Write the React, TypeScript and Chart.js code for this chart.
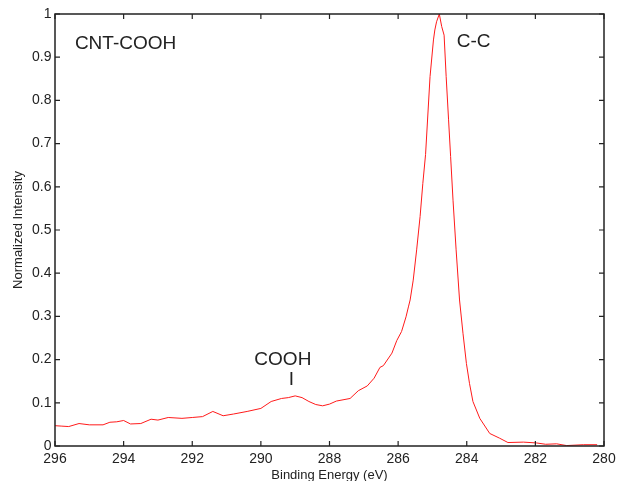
import React, { useEffect, useRef } from "react";
import { Chart, registerables } from "chart.js";

Chart.register(...registerables);

// Binding energy (eV), high to low
const energy = [
  296.0, 295.8, 295.6, 295.3, 295.0, 294.6, 294.4, 294.2, 294.0, 293.8,
  293.5, 293.2, 293.0, 292.7, 292.3, 292.0, 291.7, 291.4, 291.1, 290.8,
  290.4, 290.0, 289.7, 289.4, 289.2, 289.0, 288.8, 288.6, 288.4, 288.2,
  288.0, 287.8, 287.4, 287.16, 286.9, 286.7, 286.53, 286.43, 286.18, 286.04,
  285.9, 285.77, 285.7, 285.65, 285.56, 285.46, 285.36, 285.28, 285.2, 285.07,
  284.97, 284.93, 284.88, 284.8, 284.73, 284.66, 284.6, 284.53, 284.47, 284.4,
  284.31, 284.21, 284.11, 284.01, 283.92, 283.82, 283.62, 283.33, 283.04, 282.8,
  282.35, 281.96, 281.7, 281.38, 281.09, 280.6, 280.2,
];

// Normalized intensity
const intensity = [
  0.047, 0.046, 0.045, 0.052, 0.049, 0.049, 0.055, 0.056, 0.059, 0.051,
  0.052, 0.062, 0.060, 0.066, 0.064, 0.066, 0.068, 0.080, 0.070, 0.074,
  0.080, 0.087, 0.103, 0.110, 0.112, 0.116, 0.112, 0.103, 0.096, 0.093,
  0.097, 0.104, 0.110, 0.128, 0.139, 0.157, 0.182, 0.186, 0.215, 0.244,
  0.265, 0.299, 0.322, 0.338, 0.384, 0.454, 0.531, 0.608, 0.675, 0.855,
  0.940, 0.963, 0.982, 1.0, 0.971, 0.951, 0.855, 0.755, 0.670, 0.569,
  0.454, 0.338, 0.261, 0.191, 0.145, 0.103, 0.064, 0.029, 0.018, 0.008,
  0.009, 0.007, 0.004, 0.005, 0.001, 0.003, 0.003,
];

const xMin = 280;
const xMax = 296;
const xStep = 2;
const yMin = 0;
const yMax = 1;
const yStep = 0.1;

const xTitle = "Binding Energy (eV)";
const yTitle = "Normalized Intensity";

// Text labels placed at data coordinates
const labelTexts = ["CNT-COOH", "C-C", "COOH", "I"];
const labelX = [295.42, 284.29, 290.19, 289.11];
const labelY = [0.932, 0.936, 0.2, 0.153];
const labelAlign = ["left", "left", "left", "center"];

const FONT = "'Liberation Sans', Arial, Helvetica, sans-serif";
const INK = "#222222";

const framePlugin = {
  id: "frameAndLabels",
  afterDraw(chart: any) {
    const { ctx, chartArea: a } = chart;
    const xs = chart.scales.x;
    const ys = chart.scales.y;
    ctx.save();
    ctx.strokeStyle = INK;
    ctx.lineWidth = 1.5;
    ctx.strokeRect(a.left, a.top, a.right - a.left, a.bottom - a.top);
    ctx.lineWidth = 1.2;
    ctx.beginPath();
    const tl = 5;
    xs.ticks.forEach((t: any) => {
      const px = xs.getPixelForValue(t.value);
      ctx.moveTo(px, a.bottom);
      ctx.lineTo(px, a.bottom - tl);
      ctx.moveTo(px, a.top);
      ctx.lineTo(px, a.top + tl);
    });
    ys.ticks.forEach((t: any) => {
      const py = ys.getPixelForValue(t.value);
      ctx.moveTo(a.left, py);
      ctx.lineTo(a.left + tl, py);
      ctx.moveTo(a.right, py);
      ctx.lineTo(a.right - tl, py);
    });
    ctx.stroke();

    ctx.fillStyle = INK;
    ctx.font = `19px ${FONT}`;
    ctx.textBaseline = "middle";
    labelTexts.forEach((txt, i) => {
      ctx.textAlign = labelAlign[i] as CanvasTextAlign;
      ctx.fillText(txt, xs.getPixelForValue(labelX[i]), ys.getPixelForValue(labelY[i]));
    });
    ctx.restore();
  },
};

export default function App() {
  const ref = useRef<HTMLCanvasElement | null>(null);

  useEffect(() => {
    if (!ref.current) return;
    Chart.defaults.font.family = FONT;
    const chart = new Chart(ref.current, {
      type: "line",
      data: {
        datasets: [
          {
            data: energy.map((e, i) => ({ x: e, y: intensity[i] })),
            borderColor: "#ff1a1a",
            borderWidth: 1,
            pointRadius: 0,
            tension: 0,
            fill: false,
          },
        ],
      },
      options: {
        animation: false,
        responsive: false,
        maintainAspectRatio: false,
        layout: { padding: { top: 14, right: 13, left: 0, bottom: 0 } },
        plugins: {
          legend: { display: false },
          tooltip: { enabled: false },
          title: { display: false },
        },
        scales: {
          x: {
            type: "linear",
            reverse: true,
            min: xMin,
            max: xMax,
            grid: { display: false, drawTicks: false },
            border: { display: false },
            ticks: {
              stepSize: xStep,
              color: INK,
              font: { size: 14 },
              padding: 5,
              maxRotation: 0,
              autoSkip: false,
            },
            title: {
              display: true,
              text: xTitle,
              color: INK,
              font: { size: 13 },
              padding: { top: 0, bottom: -2 },
            },
            afterFit(scale: any) {
              scale.height = 35;
              scale.paddingLeft = 0;
              scale.paddingRight = 0;
            },
          },
          y: {
            type: "linear",
            min: yMin,
            max: yMax,
            grid: { display: false, drawTicks: false },
            border: { display: false },
            ticks: {
              stepSize: yStep,
              color: INK,
              font: { size: 14 },
              padding: 3.5,
              autoSkip: false,
              callback: (v: any) => String(Number(Number(v).toFixed(1))),
            },
            title: {
              display: true,
              text: yTitle,
              color: INK,
              font: { size: 13 },
              padding: { top: 11, bottom: 0 },
            },
            afterFit(scale: any) {
              scale.width = 55;
              scale.paddingTop = 0;
              scale.paddingBottom = 0;
            },
          },
        },
      },
      plugins: [framePlugin],
    });
    return () => chart.destroy();
  }, []);

  return (
    <div style={{ position: "absolute", left: 0, top: 0, width: 617, height: 481, background: "#fff" }}>
      <canvas ref={ref} width={617} height={481} style={{ width: 617, height: 481 }} />
    </div>
  );
}
